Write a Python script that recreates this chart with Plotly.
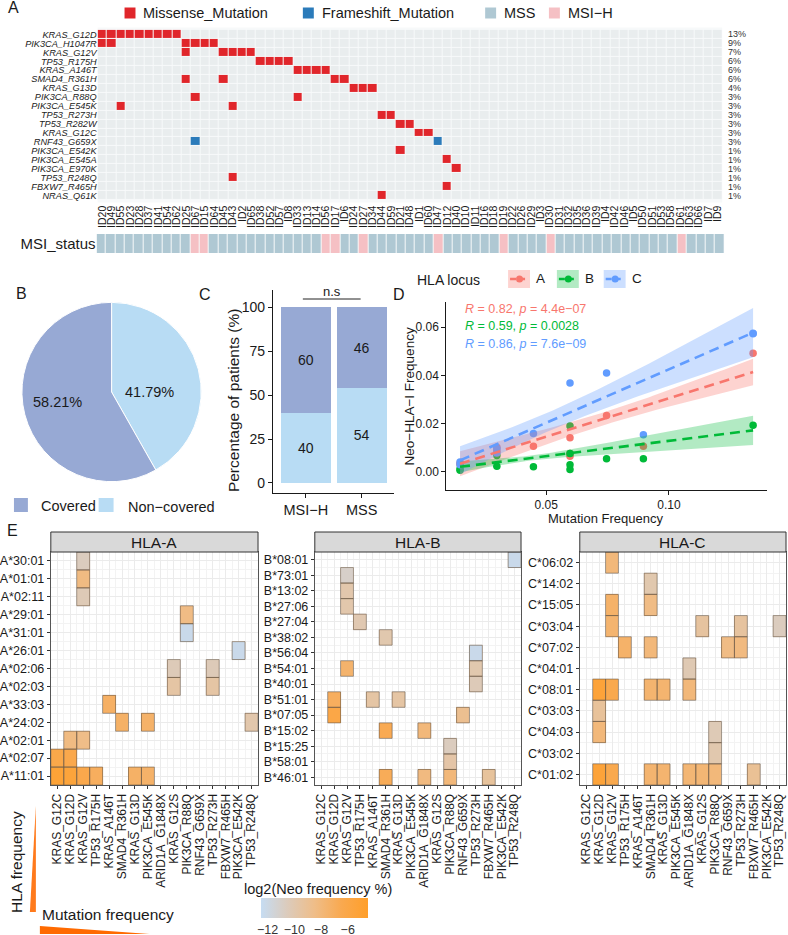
import numpy as np
import plotly.graph_objects as go

W, H = 788, 935
FONT = "Liberation Sans, Arial, sans-serif"


def fx(p):
    return p / W


def fy(p):
    return 1 - p / H


# ---------------- Panel A : oncoprint ----------------
samples = ["ID20", "ID49", "ID55", "ID23", "ID28", "ID37", "ID41", "ID54", "ID62", "ID25",
           "ID67", "ID15", "ID64", "ID45", "ID43", "ID2", "ID65", "ID38", "ID52", "ID57",
           "ID8", "ID33", "ID13", "ID14", "ID56", "ID17", "ID6", "ID24", "ID27", "ID34",
           "ID44", "ID59", "ID21", "ID48", "ID1", "ID60", "ID47", "ID12", "ID40", "ID10",
           "ID11", "ID16", "ID18", "ID19", "ID22", "ID26", "ID29", "ID3", "ID30", "ID31",
           "ID32", "ID35", "ID36", "ID39", "ID4", "ID42", "ID46", "ID5", "ID50", "ID51",
           "ID53", "ID58", "ID61", "ID63", "ID66", "ID7", "ID9"]
genes = ["KRAS_G12D", "PIK3CA_H1047R", "KRAS_G12V", "TP53_R175H", "KRAS_A146T", "SMAD4_R361H",
         "KRAS_G13D", "PIK3CA_R88Q", "PIK3CA_E545K", "TP53_R273H", "TP53_R282W", "KRAS_G12C",
         "RNF43_G659X", "PIK3CA_E542K", "PIK3CA_E545A", "PIK3CA_E970K", "TP53_R248Q",
         "FBXW7_R465H", "NRAS_Q61K"]
gene_pct = ["13%", "9%", "7%", "6%", "6%", "6%", "4%", "3%", "3%", "3%", "3%", "3%", "3%",
            "1%", "1%", "1%", "1%", "1%", "1%"]
missense_gene = (["KRAS_G12D"] * 9 + ["PIK3CA_H1047R"] * 6 + ["KRAS_G12V"] * 5 +
                 ["TP53_R175H"] * 4 + ["KRAS_A146T"] * 4 + ["SMAD4_R361H"] * 4 +
                 ["KRAS_G13D"] * 3 + ["PIK3CA_R88Q"] * 2 + ["PIK3CA_E545K"] * 2 +
                 ["TP53_R273H"] * 2 + ["TP53_R282W"] * 2 + ["KRAS_G12C"] * 2 +
                 ["PIK3CA_E542K", "PIK3CA_E545A", "PIK3CA_E970K", "TP53_R248Q",
                  "FBXW7_R465H", "NRAS_Q61K"])
missense_sample = ["ID20", "ID49", "ID55", "ID23", "ID28", "ID37", "ID41", "ID54", "ID62",
                   "ID20", "ID49", "ID25", "ID67", "ID15", "ID64",
                   "ID25", "ID45", "ID43", "ID2", "ID65",
                   "ID38", "ID52", "ID57", "ID8",
                   "ID33", "ID13", "ID14", "ID56",
                   "ID25", "ID45", "ID17", "ID6",
                   "ID24", "ID27", "ID34",
                   "ID67", "ID33",
                   "ID55", "ID43",
                   "ID44", "ID59",
                   "ID21", "ID48",
                   "ID1", "ID60",
                   "ID21", "ID12", "ID40", "ID43", "ID12", "ID44"]
frameshift_gene = ["RNF43_G659X", "RNF43_G659X"]
frameshift_sample = ["ID67", "ID47"]
msi_high_samples = ["ID67", "ID15", "ID56", "ID17", "ID27", "ID47", "ID19", "ID30", "ID61"]

# ---------------- Panel B : pie ----------------
pie_labels = ["Non-covered", "Covered"]
pie_values = [41.79, 58.21]

# ---------------- Panel C : stacked bars ----------------
msi_groups = ["MSI\u2212H", "MSS"]
covered_pct = [60, 46]
noncovered_pct = [40, 54]

# ---------------- Panel D : correlation ----------------
loci = ["A", "B", "C"]
freq_A = [0.0149, 0.0149, 0.0299, 0.0299, 0.0448, 0.0597, 0.0597, 0.0597, 0.0746, 0.0896, 0.1343]
neo_A = [0.0032, 0.0036, 0.0102, 0.0088, 0.0106, 0.0141, 0.0076, 0.0065, 0.0234, 0.0106, 0.0492]
freq_B = [0.0149, 0.0149, 0.0299, 0.0299, 0.0448, 0.0597, 0.0597, 0.0597, 0.0597, 0.0746, 0.0896, 0.1343]
neo_B = [0.0007, 0.0012, 0.0023, 0.0068, 0.0021, 0.0190, 0.0076, 0.0030, 0.0010, 0.0055, 0.0055, 0.0193]
freq_C = [0.0149, 0.0149, 0.0299, 0.0299, 0.0448, 0.0597, 0.0746, 0.0896, 0.1343, 0.1343]
neo_C = [0.0041, 0.0030, 0.0097, 0.0078, 0.0159, 0.0368, 0.0410, 0.0154, 0.0572, 0.0575]
# fitted lm line (value at the smallest / largest mutation frequency) and 95% CI half-width
# read at the left end, at 0.06 and at the right end of each fit
fit_x = [0.0149, 0.06, 0.1343]
fit_A = [0.0034, 0.0414]
fit_B = [0.0021, 0.0172]
fit_C = [0.0048, 0.0577]
ci_A = [0.0052, 0.0028, 0.0055]
ci_B = [0.0022, 0.0015, 0.0061]
ci_C = [0.0058, 0.0040, 0.0102]
corr_R = ["0.82", "0.59", "0.86"]
corr_p = ["4.4e\u221207", "0.0028", "7.6e\u221209"]

# ---------------- Panel E : neoantigen heatmaps ----------------
mutations_E = ["KRAS_G12C", "KRAS_G12D", "KRAS_G12V", "TP53_R175H", "KRAS_A146T", "SMAD4_R361H",
               "KRAS_G13D", "PIK3CA_E545K", "ARID1A_G1848X", "KRAS_G12S", "PIK3CA_R88Q",
               "RNF43_G659X", "TP53_R273H", "FBXW7_R465H", "PIK3CA_E542K", "TP53_R248Q"]

alleles_A = ["A*30:01", "A*01:01", "A*02:11", "A*29:01", "A*31:01", "A*26:01", "A*02:06",
             "A*02:03", "A*33:03", "A*24:02", "A*02:01", "A*02:07", "A*11:01"]
cellA_allele = ["A*30:01", "A*01:01", "A*02:11", "A*29:01", "A*31:01", "A*26:01", "A*02:06",
                "A*02:06", "A*02:03", "A*02:03", "A*33:03", "A*24:02", "A*24:02", "A*24:02",
                "A*02:01", "A*02:01", "A*02:07", "A*02:07", "A*11:01", "A*11:01", "A*11:01",
                "A*11:01", "A*11:01", "A*11:01"]
cellA_mut = ["KRAS_G12V", "KRAS_G12V", "KRAS_G12V", "PIK3CA_R88Q", "PIK3CA_R88Q", "PIK3CA_E542K",
             "KRAS_G12S", "TP53_R273H", "KRAS_G12S", "TP53_R273H", "KRAS_A146T", "SMAD4_R361H",
             "PIK3CA_E545K", "TP53_R248Q", "KRAS_G12D", "KRAS_G12V", "KRAS_G12C", "KRAS_G12D",
             "KRAS_G12C", "KRAS_G12D", "KRAS_G12V", "TP53_R175H", "KRAS_G13D", "PIK3CA_E545K"]
cellA_val = [-10.6, -8.3, -10.3, -8.4, -12.2, -12.2, -10.4, -10.4, -9.6, -9.6, -7.2, -7.3,
             -7.4, -9.9, -8.3, -8.5, -6.2, -6.3, -5.2, -5.4, -6.3, -7.0, -7.3, -7.4]

alleles_B = ["B*08:01", "B*73:01", "B*13:02", "B*27:06", "B*27:04", "B*38:02", "B*56:04",
             "B*54:01", "B*40:01", "B*51:01", "B*07:05", "B*15:02", "B*15:25", "B*58:01", "B*46:01"]
cellB_allele = ["B*08:01", "B*73:01", "B*13:02", "B*27:06", "B*27:04", "B*38:02", "B*56:04",
                "B*54:01", "B*54:01", "B*40:01", "B*51:01", "B*51:01", "B*51:01", "B*07:05",
                "B*07:05", "B*15:02", "B*15:02", "B*15:25", "B*58:01", "B*46:01", "B*46:01",
                "B*46:01", "B*46:01"]
cellB_mut = ["TP53_R248Q", "KRAS_G12V", "KRAS_G12V", "KRAS_G12V", "TP53_R175H", "SMAD4_R361H",
             "TP53_R273H", "KRAS_G12V", "TP53_R273H", "TP53_R273H", "KRAS_G12D", "KRAS_A146T",
             "KRAS_G13D", "KRAS_G12D", "RNF43_G659X", "SMAD4_R361H", "ARID1A_G1848X",
             "PIK3CA_R88Q", "PIK3CA_R88Q", "SMAD4_R361H", "ARID1A_G1848X", "PIK3CA_R88Q",
             "FBXW7_R465H"]
cellB_val = [-12.2, -11.0, -9.9, -9.9, -10.1, -10.0, -12.2, -7.5, -10.0, -10.4, -7.0, -9.6,
             -9.6, -6.0, -8.8, -6.6, -8.0, -10.6, -9.7, -6.8, -8.2, -8.0, -9.3]

alleles_C = ["C*06:02", "C*14:02", "C*15:05", "C*03:04", "C*07:02", "C*04:01", "C*08:01",
             "C*03:03", "C*04:03", "C*03:02", "C*01:02"]
cellC_allele = ["C*06:02", "C*14:02", "C*15:05", "C*15:05", "C*03:04", "C*03:04", "C*03:04",
                "C*03:04", "C*07:02", "C*07:02", "C*07:02", "C*07:02", "C*04:01", "C*08:01",
                "C*08:01", "C*08:01", "C*08:01", "C*08:01", "C*03:03", "C*04:03", "C*04:03",
                "C*03:02", "C*01:02", "C*01:02", "C*01:02", "C*01:02", "C*01:02", "C*01:02",
                "C*01:02", "C*01:02"]
cellC_mut = ["KRAS_G12V", "SMAD4_R361H", "KRAS_G12V", "SMAD4_R361H", "KRAS_G12V", "KRAS_G12S",
             "TP53_R273H", "TP53_R248Q", "TP53_R175H", "SMAD4_R361H", "RNF43_G659X",
             "TP53_R273H", "ARID1A_G1848X", "KRAS_G12D", "KRAS_G12V", "SMAD4_R361H",
             "KRAS_G13D", "ARID1A_G1848X", "KRAS_G12D", "KRAS_G12D", "PIK3CA_R88Q",
             "PIK3CA_R88Q", "KRAS_G12D", "KRAS_G12V", "SMAD4_R361H", "KRAS_G13D",
             "ARID1A_G1848X", "KRAS_G12S", "PIK3CA_R88Q", "FBXW7_R465H"]
cellC_val = [-8.0, -10.0, -7.4, -8.4, -7.6, -9.4, -9.4, -10.6, -7.4, -8.0, -8.4, -8.2,
             -10.2, -5.3, -6.4, -7.6, -7.6, -8.0, -9.2, -8.0, -10.3, -10.0, -5.3, -6.4,
             -7.6, -7.6, -7.8, -7.8, -8.0, -9.0]
neo_range = [-12.5, -4.5]
neo_ticks = [-12, -10, -8, -6]

# ---------------- colours ----------------
C_MISSENSE = "#E0262B"
C_FRAME = "#2B7BBA"
C_MSS = "#AFC8D3"
C_MSIH = "#F5C0C4"
C_COV = "#97A9D4"
C_NONCOV = "#B8DCF4"
LOCUS_COL = {"A": "#F8766D", "B": "#00BA38", "C": "#619CFF"}
LOCUS_FILL = {"A": "rgba(248,118,109,0.32)", "B": "rgba(0,186,56,0.30)", "C": "rgba(97,156,255,0.32)"}
NEO_SCALE = [[0.0, "#C6DCF2"], [0.25, "#DCCBBB"], [0.5, "#EFBD88"], [0.75, "#F9A950"], [1.0, "#FF9F2A"]]

fig = go.Figure()
shapes = []
ann = []


def text(x, y, s, size=13, xanchor="center", yanchor="middle", color="#1a1a1a", angle=0, **kw):
    ann.append(dict(x=fx(x), y=fy(y), xref="paper", yref="paper", text=s, showarrow=False,
                    xanchor=xanchor, yanchor=yanchor, textangle=angle,
                    font=dict(size=size, color=color, family=FONT), **kw))


def rect(x0, y0, x1, y1, fill, line=None, lw=0, layer="above"):
    shapes.append(dict(type="rect", xref="paper", yref="paper", x0=fx(x0), x1=fx(x1),
                       y0=fy(y1), y1=fy(y0), fillcolor=fill,
                       line=dict(color=line or fill, width=lw), layer=layer))


# ---- Panel A oncoprint
z = np.zeros((len(genes), len(samples)))
for g, s in zip(missense_gene, missense_sample):
    z[genes.index(g), samples.index(s)] = 1
for g, s in zip(frameshift_gene, frameshift_sample):
    z[genes.index(g), samples.index(s)] = 2
fig.add_trace(go.Heatmap(z=z, x=samples, y=genes, zmin=0, zmax=2, showscale=False,
                         colorscale=[[0, "#E9EDEE"], [0.33, "#E9EDEE"], [0.33, C_MISSENSE],
                                     [0.67, C_MISSENSE], [0.67, C_FRAME], [1, C_FRAME]],
                         xgap=1, ygap=1, hoverinfo="skip", xaxis="x", yaxis="y"))
msi = [[1 if s in msi_high_samples else 0 for s in samples]]
fig.add_trace(go.Heatmap(z=msi, x=samples, y=["MSI_status"], zmin=0, zmax=1, showscale=False,
                         colorscale=[[0, C_MSS], [0.5, C_MSS], [0.5, C_MSIH], [1, C_MSIH]],
                         xgap=1, ygap=0, hoverinfo="skip", xaxis="x2", yaxis="y2"))
rect(96, 27.4, 723, 202.6, "#F7F9FA", layer="below")
rect(95, 234, 725, 253, "#F7F9FA", layer="below")
for i, p in enumerate(gene_pct):
    ann.append(dict(x=fx(727), y=i, xref="paper", yref="y", text=p, showarrow=False,
                    xanchor="left", yanchor="middle", font=dict(size=9, color="#333", family=FONT)))

# legend of panel A
for x0, col, label in [(123, C_MISSENSE, "Missense_Mutation"), (302, C_FRAME, "Frameshift_Mutation"),
                       (485, C_MSS, "MSS"), (549, C_MSIH, "MSI\u2212H")]:
    rect(x0, 7.5, x0 + 11, 18.5, col)
    text(x0 + 17, 13.5, label, size=14.5, xanchor="left")

# ---- Panel B pie
fig.add_trace(go.Pie(labels=pie_labels, values=pie_values, sort=False, direction="clockwise",
                     rotation=0, marker=dict(colors=[C_NONCOV, C_COV], line=dict(color="white", width=1)),
                     textinfo="none", hoverinfo="skip", showlegend=False,
                     domain=dict(x=[fx(20), fx(200)], y=[fy(482), fy(302)])))
text(56, 402, f"{pie_values[1]:.2f}%", size=14.5)
text(148, 392, f"{pie_values[0]:.2f}%", size=14.5)
rect(12, 498, 26, 512, C_COV)
text(37, 506, "Covered", size=14.5, xanchor="left")
rect(97, 498, 112, 512, C_NONCOV)
text(124, 507, "Non\u2212covered", size=14.5, xanchor="left")

# ---- Panel C bars
fig.add_trace(go.Bar(x=msi_groups, y=noncovered_pct, marker=dict(color=C_NONCOV, line=dict(width=0)),
                     width=0.89, text=noncovered_pct, textposition="inside", insidetextanchor="middle",
                     textfont=dict(size=14, color="#1a1a1a"), hoverinfo="skip", xaxis="x3", yaxis="y3",
                     showlegend=False))
fig.add_trace(go.Bar(x=msi_groups, y=covered_pct, marker=dict(color=C_COV, line=dict(width=0)),
                     width=0.89, text=covered_pct, textposition="inside", insidetextanchor="middle",
                     textfont=dict(size=14, color="#1a1a1a"), hoverinfo="skip", xaxis="x3", yaxis="y3",
                     showlegend=False))
shapes.append(dict(type="line", xref="paper", yref="paper", x0=fx(302), x1=fx(360), y0=fy(299),
                   y1=fy(299), line=dict(color="#222", width=1)))
text(331, 292, "n.s", size=13)
text(233, 400, "Percentage of patients (%)", size=15.5, angle=-90)


# ---- Panel D scatter + lm
def band(fit_ends, ci_vals, xs_all):
    x0, xm, x1 = fit_x
    slope = (fit_ends[1] - fit_ends[0]) / (x1 - x0)
    fit = fit_ends[0] + slope * (xs_all - x0)
    q = np.polyfit(fit_x, np.square(ci_vals), 2)
    hw = np.sqrt(np.clip(np.polyval(q, xs_all), 0, None))
    return fit, fit - hw, fit + hw


data_D = {"A": (freq_A, neo_A, fit_A, ci_A), "B": (freq_B, neo_B, fit_B, ci_B),
          "C": (freq_C, neo_C, fit_C, ci_C)}
for loc in loci:
    fxv, nv, _, _ = data_D[loc]
    fig.add_trace(go.Scatter(x=fxv, y=nv, mode="markers", marker=dict(size=7.5, color=LOCUS_COL[loc]),
                             hoverinfo="skip", xaxis="x4", yaxis="y4", showlegend=False))
fits = {}
for loc in loci:
    fxv, nv, fe, ci = data_D[loc]
    xs = np.linspace(min(fxv), max(fxv), 80)
    fit, lo, hi = band(fe, ci, xs)
    fits[loc] = (xs, fit)
    fig.add_trace(go.Scatter(x=np.concatenate([xs, xs[::-1]]), y=np.concatenate([hi, lo[::-1]]),
                             fill="toself", fillcolor=LOCUS_FILL[loc], line=dict(width=0),
                             mode="lines", hoverinfo="skip", xaxis="x4", yaxis="y4", showlegend=False))
for loc in loci:
    xs, fit = fits[loc]
    fig.add_trace(go.Scatter(x=xs, y=fit, mode="lines",
                             line=dict(color=LOCUS_COL[loc], width=2.6, dash="10px,6px"),
                             hoverinfo="skip", xaxis="x4", yaxis="y4", showlegend=False))
for i, loc in enumerate(loci):
    text(463, 309 + 17.5 * i, f"<i>R</i> = {corr_R[i]}, <i>p</i> = {corr_p[i]}", size=12.5,
         xanchor="left", color=LOCUS_COL[loc])
text(606, 518, "Mutation Frequency", size=13)
text(409, 396, "Neo\u2212HLA\u2212I Frequency", size=13.5, angle=-90)
# legend of D
text(415, 280, "HLA locus", size=14, xanchor="left")
for x0, loc in [(508, "A"), (557, "B"), (604, "C")]:
    rect(x0, 270, x0 + 22, 288, LOCUS_FILL[loc])
    shapes.append(dict(type="line", xref="paper", yref="paper", x0=fx(x0 + 2), x1=fx(x0 + 20),
                       y0=fy(279), y1=fy(279), line=dict(color=LOCUS_COL[loc], width=2.4, dash="6px,3px")))
    shapes.append(dict(type="circle", xref="paper", yref="paper", x0=fx(x0 + 8), x1=fx(x0 + 15),
                       y0=fy(282.5), y1=fy(275.5), fillcolor=LOCUS_COL[loc], line=dict(width=0)))
    text(x0 + 33, 278, loc, size=13.5)

# ---- Panel E heatmaps
panels_E = [("HLA-A", alleles_A, cellA_allele, cellA_mut, cellA_val, 49, 257, "5"),
            ("HLA-B", alleles_B, cellB_allele, cellB_mut, cellB_val, 314, 521, "6"),
            ("HLA-C", alleles_C, cellC_allele, cellC_mut, cellC_val, 580, 787, "7")]
for k, (title, alleles, c_al, c_mut, c_val, x0p, x1p, ax) in enumerate(panels_E):
    zz = [[None] * len(mutations_E) for _ in alleles]
    for a, m, v in zip(c_al, c_mut, c_val):
        r, c = alleles.index(a), mutations_E.index(m)
        zz[r][c] = v
        shapes.append(dict(type="rect", xref="x" + ax, yref="y" + ax, x0=c - 0.5, x1=c + 0.5,
                           y0=r - 0.5, y1=r + 0.5, line=dict(color="rgba(115,95,75,0.65)", width=1),
                           fillcolor="rgba(0,0,0,0)", layer="above"))
    hm = dict(z=zz, x=list(range(len(mutations_E))), y=list(range(len(alleles))),
              zmin=neo_range[0], zmax=neo_range[1], colorscale=NEO_SCALE, hoverinfo="skip",
              xaxis="x" + ax, yaxis="y" + ax, showscale=(k == 0))
    if k == 0:
        hm["colorbar"] = dict(orientation="h", x=fx(313.5), xanchor="center", y=fy(898), yanchor="top",
                              len=107 / W, lenmode="fraction", thickness=20, xpad=0, ypad=0,
                              tickvals=neo_ticks, ticks="", outlinewidth=0,
                              tickfont=dict(size=12.5, color="#333", family=FONT))
    fig.add_trace(go.Heatmap(**hm))
    rect(x0p, 532, x1p, 552, "#D9D9D9", line="#333333", lw=1)
    text((x0p + x1p) / 2, 542.5, title, size=15.5)

text(317, 889, "log2(Neo frequency %)", size=14.5)
text(14, 862, "HLA frequency", size=15.5, angle=-90)
text(38, 914, "Mutation frequency", size=15.5, xanchor="left")
shapes.append(dict(type="path", xref="paper", yref="paper",
                   path=f"M {fx(34)} {fy(806)} L {fx(34)} {fy(912)} L {fx(28)} {fy(912)} Z",
                   fillcolor="#FF7A1C", line=dict(width=0)))
shapes.append(dict(type="path", xref="paper", yref="paper",
                   path=f"M {fx(38)} {fy(926)} L {fx(148)} {fy(934)} L {fx(38)} {fy(934)} Z",
                   fillcolor="#FF6A00", line=dict(width=0)))

# panel letters
for L, x, y in [("A", 12, 8), ("B", 20, 293), ("C", 204, 294), ("D", 399, 294), ("E", 11, 530)]:
    text(x, y, L, size=16)

axis_font = dict(family=FONT, color="#1a1a1a")
layout_axes = dict(
    xaxis=dict(domain=[fx(96), fx(723)], anchor="y", type="category", tickangle=-90, ticks="",
               tickmode="array", tickvals=samples, ticktext=samples,
               tickfont=dict(size=10.5, **axis_font), showgrid=False, zeroline=False, showline=False),
    yaxis=dict(domain=[fy(202.6), fy(27.4)], anchor="x", type="category", autorange="reversed",
               tickmode="array", tickvals=genes, ticktext=genes,
               ticks="", tickfont=dict(size=9.2, style="italic", color="#222", family=FONT),
               showgrid=False, zeroline=False),
    xaxis2=dict(domain=[fx(95), fx(725)], anchor="y2", type="category", showticklabels=False,
                ticks="", showgrid=False, zeroline=False),
    yaxis2=dict(domain=[fy(253), fy(234)], anchor="x2", type="category", ticks="",
                tickfont=dict(size=15, **axis_font), showgrid=False, zeroline=False),
    xaxis3=dict(domain=[fx(272), fx(393)], anchor="y3", type="category", range=[-0.59, 1.57],
                showline=True, linecolor="#1a1a1a", linewidth=1, ticks="outside", ticklen=4,
                tickcolor="#1a1a1a", tickfont=dict(size=14.5, **axis_font), showgrid=False),
    yaxis3=dict(domain=[fy(493), fy(290)], anchor="x3", range=[-5.7, 109.7],
                tickvals=[0, 25, 50, 75, 100], showline=True, linecolor="#1a1a1a", linewidth=1,
                ticks="outside", ticklen=4, tickcolor="#1a1a1a", tickfont=dict(size=14, **axis_font),
                showgrid=False, zeroline=False),
    xaxis4=dict(domain=[fx(446), fx(768)], anchor="y4", range=[0.0093, 0.140], tickvals=[0.05, 0.10],
                ticktext=["0.05", "0.10"], showline=True, linecolor="#1a1a1a", linewidth=1,
                ticks="outside", ticklen=4, tickcolor="#1a1a1a", tickfont=dict(size=12, **axis_font),
                showgrid=False, zeroline=False),
    yaxis4=dict(domain=[fy(490), fy(302)], anchor="x4", range=[-0.0075, 0.0704],
                tickvals=[0, 0.02, 0.04, 0.06], tickformat=".2f", showline=True, linecolor="#1a1a1a",
                linewidth=1, ticks="outside", ticklen=4, tickcolor="#1a1a1a",
                tickfont=dict(size=12, **axis_font), showgrid=False, zeroline=False),
)
for title, alleles, c_al, c_mut, c_val, x0p, x1p, ax in panels_E:
    n = len(alleles)
    layout_axes["xaxis" + ax] = dict(
        domain=[fx(x0p), fx(x1p)], anchor="y" + ax, range=[-0.5, len(mutations_E) - 0.5],
        tickvals=list(range(len(mutations_E))), ticktext=mutations_E, tickangle=-90,
        tickfont=dict(size=12, **axis_font), ticks="outside", ticklen=3, tickcolor="#333",
        showgrid=True, gridcolor="#EBEBEB", gridwidth=1, zeroline=False,
        minor=dict(tickvals=[i + 0.5 for i in range(len(mutations_E) - 1)], showgrid=True,
                   gridcolor="#F3F3F3", ticks=""),
        showline=True, mirror=True, linecolor="#555555", linewidth=1)
    layout_axes["yaxis" + ax] = dict(
        domain=[fy(785), fy(552)], anchor="x" + ax, range=[n - 0.5, -0.5],
        tickvals=list(range(n)), ticktext=alleles, tickfont=dict(size=12.5, **axis_font),
        ticks="outside", ticklen=3, tickcolor="#333", showgrid=True, gridcolor="#EBEBEB",
        zeroline=False,
        minor=dict(tickvals=[i + 0.5 for i in range(n - 1)], showgrid=True, gridcolor="#F3F3F3", ticks=""),
        showline=True, mirror=True, linecolor="#555555", linewidth=1)

fig.update_layout(width=W, height=H, margin=dict(l=0, r=0, t=0, b=0), paper_bgcolor="white",
                  plot_bgcolor="white", showlegend=False, barmode="stack", shapes=shapes,
                  annotations=ann, font=dict(family=FONT, color="#1a1a1a"), **layout_axes)
fig.write_html("out.html")
